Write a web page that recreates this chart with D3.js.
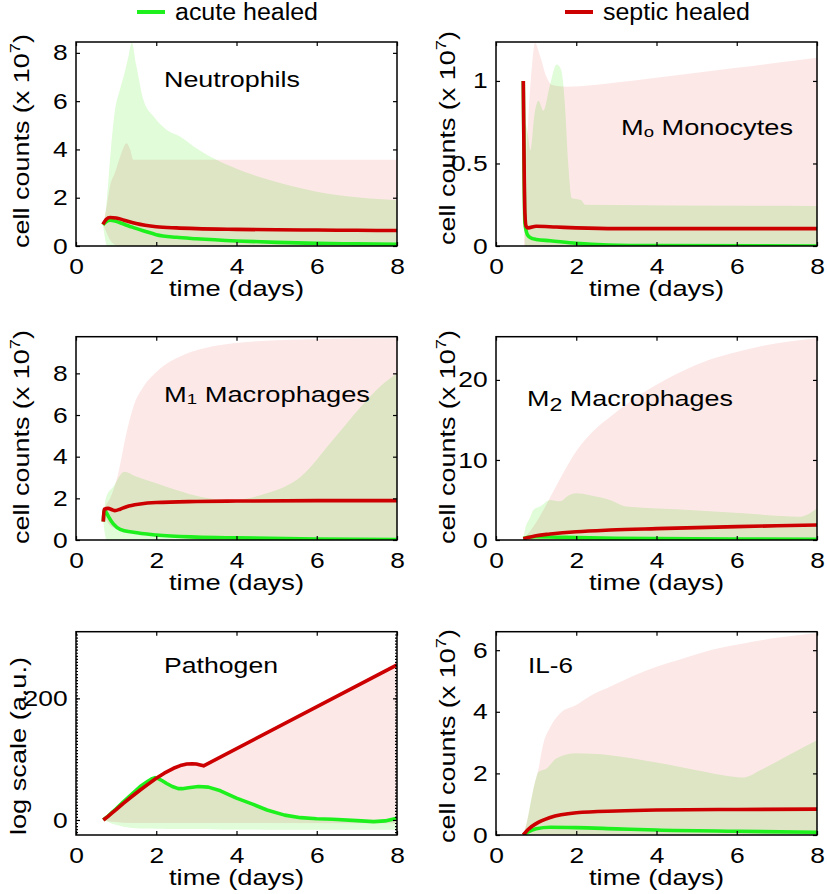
<!DOCTYPE html>
<html>
<head>
<meta charset="utf-8">
<script src="https://cdn.jsdelivr.net/npm/d3@7/dist/d3.min.js"></script>
<style>
  body { margin: 0; background: #fff; }
  text { font-family: "Liberation Sans", Arial, sans-serif; }
</style>
</head>
<body>
<div id="chart"></div>
<script>
// ---- data: [time, value] for lines, [time, low, high] for bands ----
const xTicks = [0, 2, 4, 6, 8];

// Neutrophils
const neutAcute = [[0.67,0.88],[0.75,1.0],[0.85,1.07],[1.0,1.02],[1.2,0.9],[1.4,0.78],[1.7,0.62],[2,0.47],[2.5,0.36],[3,0.3],[4,0.21],[5,0.15],[6,0.11],[7,0.09],[8,0.07]];
const neutSeptic = [[0.67,0.9],[0.75,1.1],[0.85,1.18],[1.0,1.16],[1.2,1.07],[1.5,0.93],[2,0.8],[2.5,0.75],[3,0.72],[4,0.69],[5,0.67],[6,0.66],[7,0.65],[8,0.64]];
const neutAcuteBand = [[0.67,0.9,0.9],[0.72,0.35,1.2],[0.77,0,1.95],[0.87,0,4.0],[0.97,0,5.6],[1.1,0,6.5],[1.2,0,7.1],[1.3,0,7.8],[1.39,0,8.42],[1.5,0,7.5],[1.68,0,6.06],[1.93,0,5.37],[2.26,0,4.81],[2.59,0,4.54],[3.0,0,4.05],[3.5,0,3.57],[4,0,3.2],[5,0,2.65],[6,0,2.25],[7,0,2.02],[8,0,1.9]];
const neutSepticBand = [[0.67,0.9,0.9],[0.75,0.6,1.5],[0.85,0.25,2.5],[0.97,0.05,3.03],[1.1,0,3.7],[1.26,0,4.26],[1.35,0,4.0],[1.43,0,3.57],[2,0,3.57],[8,0,3.57]];
const neutYTicks = [0, 2, 4, 6, 8];

// M0 monocytes
const monoAcute = [[0.68,1.0],[0.7,0.45],[0.72,0.14],[0.78,0.07],[0.85,0.052],[1.0,0.04],[1.35,0.032],[2,0.016],[2.8,0.006],[4,0.002],[8,0]];
const monoSeptic = [[0.68,1.0],[0.7,0.5],[0.72,0.2],[0.75,0.12],[0.8,0.11],[1.0,0.12],[1.5,0.115],[2,0.11],[3,0.105],[8,0.105]];
const monoAcuteBand = [[0.72,0,0],[0.73,0,0.74],[0.78,0,0.7],[0.86,0,0.58],[0.96,0,0.8],[1.06,0,0.88],[1.18,0,0.82],[1.35,0,0.98],[1.51,0,1.1],[1.62,0,1.07],[1.72,0,0.85],[1.8,0,0.5],[1.89,0,0.29],[2.0,0,0.285],[2.12,0,0.278],[2.22,0,0.25],[8,0,0.243]];
const monoSepticBand = [[0.7,0,0.2],[0.73,0,0.4],[0.8,0,0.75],[0.9,0,1.1],[0.97,0,1.23],[1.1,0,1.15],[1.25,0,1.03],[1.4,0,0.975],[1.76,0,0.965],[3,0,0.99],[4,0,1.02],[5,0,1.05],[6,0,1.08],[7,0,1.11],[8,0,1.14]];
const monoYTicks = [0, 0.5, 1];

// M1 macrophages
const m1Acute = [[0.68,0.9],[0.71,1.45],[0.76,1.3],[0.81,1.12],[0.93,0.77],[1.1,0.51],[1.43,0.37],[2,0.24],[3,0.14],[4,0.1],[6,0.05],[8,0.02]];
const m1Septic = [[0.68,0.88],[0.7,1.47],[0.8,1.52],[0.9,1.45],[0.97,1.41],[1.1,1.48],[1.26,1.6],[1.6,1.73],[2,1.8],[3,1.85],[4,1.87],[6,1.89],[8,1.89]];
const m1AcuteBand = [[0.68,0.9,0.9],[0.72,0.3,1.76],[0.76,0,2.1],[0.93,0,2.56],[1.2,0,3.28],[1.5,0,3.05],[2,0,2.72],[2.5,0,2.4],[3.1,0,2.08],[3.9,0,1.92],[4.75,0,2.24],[5.6,0,3.04],[6.4,0,4.8],[7.1,0,6.4],[7.6,0,7.4],[8,0,8.0]];
const m1SepticBand = [[0.68,0.88,0.88],[0.72,1.0,1.5],[0.85,0.7,2.0],[1.01,0.55,2.88],[1.14,0.5,4.0],[1.22,0.47,4.8],[1.43,0.42,6.4],[1.68,0.35,7.36],[2.01,0.28,8.08],[2.68,0.08,8.88],[3.2,0,9.2],[3.92,0,9.44],[5.59,0,9.63],[8,0,9.68]];
const m1YTicks = [0, 2, 4, 6, 8];

// M2 macrophages
const m2Acute = [[0.68,0.2],[0.8,0.35],[1.0,0.4],[1.5,0.35],[2,0.3],[3,0.22],[4,0.17],[6,0.12],[8,0.1]];
const m2Septic = [[0.68,0.17],[1.0,0.54],[1.35,0.75],[2,1.04],[2.85,1.25],[4,1.42],[5,1.55],[6,1.67],[7,1.78],[8,1.88]];
const m2AcuteBand = [[0.68,0,0.2],[0.72,0,1.25],[0.85,0,2.8],[0.93,0,3.75],[1.1,0,4.17],[1.35,0,5.0],[1.55,0,4.85],[1.64,0,4.9],[1.76,0,5.4],[2.0,0,5.83],[2.34,0,5.6],[2.84,0,5.0],[3.26,0,4.17],[4.5,0,3.83],[6.17,0,3.33],[7.58,0,2.92],[8,0,3.96]];
const m2SepticBand = [[0.68,0,0.17],[0.8,0,0.8],[1.0,0,2.2],[1.2,0,3.9],[1.4,0,5.8],[1.7,0,8.6],[2,0,11.1],[2.4,0,13.5],[2.85,0,15.4],[3.4,0,17.5],[4,0,19.4],[4.6,0,21],[5.3,0,22.5],[6,0,23.5],[6.6,0,24.2],[7.3,0,24.8],[8,0,25.2]];
const m2YTicks = [0, 10, 20];

// Pathogen (log scale, a.u.)
const pathAcute = [[0.68,0],[0.8,6.5],[0.9,12.5],[1.0,18.5],[1.18,30],[1.4,43],[1.6,55],[1.8,64],[1.9,68],[1.97,69.6],[2.05,68],[2.15,64.5],[2.26,60],[2.4,55],[2.55,51.5],[2.65,51.5],[2.8,53],[3.05,55],[3.3,54],[3.6,48],[4,36],[4.4,26],[4.76,16.4],[5.2,8],[5.6,3.8],[6,2],[6.4,1.1],[7,-1],[7.42,-2.7],[7.7,-1.5],[8,2.7]];
const pathSeptic = [[0.68,0],[0.8,6],[0.9,11.5],[1.0,17],[1.18,27.4],[1.4,39],[1.6,49.3],[1.8,59],[2.0,68.5],[2.2,77],[2.43,85],[2.6,89.5],[2.76,92],[2.9,92.5],[3.0,92],[3.1,90.5],[3.18,89],[8,255]];
const pathAcuteBand = [[0.68,0,0],[0.8,-3,6.5],[0.9,-6,12.5],[1.0,-8,18.5],[1.18,-11,30],[1.4,-13,43],[1.6,-14,55],[1.8,-14,64],[1.9,-14,68],[1.97,-14.5,69.6],[2.05,-14.5,68],[2.15,-14.5,64.5],[2.26,-15,60],[2.4,-15,55],[2.55,-15,51.5],[2.65,-15,51.5],[2.8,-15,53],[3.05,-15,55],[3.3,-15,54],[3.6,-15.5,48],[4,-15.5,36],[4.4,-15.5,26],[4.76,-16,16.4],[5.2,-16,8],[5.6,-16,3.8],[6,-16,2],[6.4,-16,1.1],[7,-16,-1],[7.42,-16,-2.7],[7.7,-16,-1.5],[8,-16,2.7]];
const pathSepticBand = [[0.68,0,0],[0.8,-2,6],[0.9,-3,11.5],[1.0,-3.5,17],[1.18,-4.5,27.4],[1.4,-5,39],[1.6,-5,49.3],[1.8,-5,59],[2.0,-5,68.5],[2.2,-5,77],[2.43,-5,85],[2.6,-5,89.5],[2.76,-5,92],[2.9,-5,92.5],[3.0,-5,92],[3.1,-5,90.5],[3.18,-5,89],[8,-5.5,255]];
const pathYTicks = [0, 200];

// IL-6
const il6Acute = [[0.68,0],[0.8,0.1],[1.0,0.2],[1.35,0.25],[2,0.24],[3,0.2],[4,0.16],[6,0.12],[8,0.09]];
const il6Septic = [[0.68,0],[0.8,0.18],[1.0,0.37],[1.35,0.57],[2,0.72],[3,0.78],[4,0.81],[6,0.83],[8,0.84]];
const il6AcuteBand = [[0.68,0,0],[0.75,0,0.3],[0.89,0,1.24],[1.0,0,1.85],[1.06,0,2.05],[1.26,0,2.16],[1.51,0,2.49],[2.0,0,2.65],[2.84,0,2.59],[4,0,2.35],[5,0,2.1],[6.17,0,1.87],[6.6,0,2.11],[7.3,0,2.6],[8,0,3.08]];
const il6SepticBand = [[0.68,0,0],[0.8,0,0.6],[0.95,0,1.6],[1.05,0,2.1],[1.18,0,2.97],[1.35,0,3.5],[1.6,0,3.95],[2,0,4.22],[2.4,0,4.55],[2.84,0,4.81],[3.4,0,5.15],[4,0,5.46],[4.7,0,5.75],[5.34,0,6.0],[6.17,0,6.22],[7,0,6.4],[8,0,6.56]];
const il6YTicks = [0, 2, 4, 6];

// ---- styling ----
const greenLine = "#1ef01e", redLine = "#cc0000";
const greenFill = "#e0fcd8", pinkFill = "#fde8e8";

const svg = d3.select("#chart").append("svg")
    .attr("width", 827)
    .attr("height", 894);

// plot boxes (column x range, row y range)
const cols = [[76, 397], [496, 817]];
const rows = [[42, 246], [336.7, 540], [631.7, 835]];

const cellLabel = { main: "cell counts (x 10", sup: "7", tail: ")", len: 214 };

const panels = [
    { col: 0, row: 0, yDomain: [0, 8.45], yTicks: neutYTicks,
      acute: neutAcute, septic: neutSeptic, acuteBand: neutAcuteBand, septicBand: neutSepticBand,
      title: [{ t: "Neutrophils" }], tx: 164, ty: 87, tlen: 136,
      ylab: cellLabel, lx: 29, ly: 141 },
    { col: 1, row: 0, yDomain: [0, 1.236], yTicks: monoYTicks,
      acute: monoAcute, septic: monoSeptic, acuteBand: monoAcuteBand, septicBand: monoSepticBand,
      title: [{ t: "M" }, { t: "o", size: 15, dy: 2 }, { t: " Monocytes" }], tx: 621, ty: 135, tlen: 172,
      ylab: cellLabel, lx: 455, ly: 138 },
    { col: 0, row: 1, yDomain: [0, 9.76], yTicks: m1YTicks,
      acute: m1Acute, septic: m1Septic, acuteBand: m1AcuteBand, septicBand: m1SepticBand,
      title: [{ t: "M" }, { t: "1", size: 15, dy: 2 }, { t: "  Macrophages" }], tx: 164, ty: 401.7, tlen: 206,
      ylab: cellLabel, lx: 29, ly: 437 },
    { col: 1, row: 1, yDomain: [0, 25.4], yTicks: m2YTicks,
      acute: m2Acute, septic: m2Septic, acuteBand: m2AcuteBand, septicBand: m2SepticBand,
      title: [{ t: "M" }, { t: "2", size: 19, dy: 5 }, { t: " Macrophages" }], tx: 527, ty: 406, tlen: 206,
      ylab: cellLabel, lx: 455, ly: 437 },
    { col: 0, row: 2, yDomain: [-24.7, 309.6], yTicks: pathYTicks, minor: d3.range(-20, 310, 5),
      acute: pathAcute, septic: pathSeptic, acuteBand: pathAcuteBand, septicBand: pathSepticBand,
      curve: d3.curveLinear,
      title: [{ t: "Pathogen" }], tx: 164, ty: 673, tlen: 114,
      ylab: { main: "log scale (a.u.)", len: 178 }, lx: 26, ly: 746 },
    { col: 1, row: 2, yDomain: [0, 6.6], yTicks: il6YTicks,
      acute: il6Acute, septic: il6Septic, acuteBand: il6AcuteBand, septicBand: il6SepticBand,
      title: [{ t: "IL-6" }], tx: 528, ty: 673, tlen: 45,
      ylab: cellLabel, lx: 455, ly: 736 }
];

function styleAxis(sel, withText) {
    sel.attr("font-size", 22).attr("font-family", '"Liberation Sans", Arial, sans-serif');
    sel.select(".domain").remove();
    sel.selectAll(".tick line").attr("stroke", "#000").attr("stroke-width", 1.2);
    if (withText) sel.selectAll(".tick text").attr("fill", "#000").attr("transform", "scale(1.2,1)");
}

panels.forEach((p, i) => {
    const [x0, x1] = cols[p.col];
    const [y0, y1] = rows[p.row];
    const curve = p.curve || d3.curveMonotoneX;

    const x = d3.scaleLinear().domain([0, 8]).range([x0, x1]);
    const y = d3.scaleLinear().domain(p.yDomain).range([y1, y0]);

    const g = svg.append("g");

    g.append("clipPath").attr("id", "clip" + i)
        .append("rect")
        .attr("x", x0).attr("y", y0)
        .attr("width", x1 - x0).attr("height", y1 - y0);

    const plot = g.append("g").attr("clip-path", `url(#clip${i})`);

    const area = d3.area()
        .x(d => x(d[0]))
        .y0(d => y(d[1]))
        .y1(d => y(d[2]))
        .curve(curve);

    const line = d3.line()
        .x(d => x(d[0]))
        .y(d => y(d[1]))
        .curve(curve);

    // bands
    plot.append("path").attr("d", area(p.septicBand)).attr("fill", pinkFill);
    plot.append("path").attr("d", area(p.acuteBand)).attr("fill", greenFill)
        .style("mix-blend-mode", "multiply");

    // mean lines
    plot.append("path").attr("d", line(p.acute))
        .attr("fill", "none").attr("stroke", greenLine)
        .attr("stroke-width", 3.6).attr("stroke-linejoin", "round");
    plot.append("path").attr("d", line(p.septic))
        .attr("fill", "none").attr("stroke", redLine)
        .attr("stroke-width", 3.6).attr("stroke-linejoin", "round");

    // axes, ticks pointing inward on all four sides
    g.append("g").attr("transform", `translate(0,${y1})`)
        .call(d3.axisBottom(x).tickValues(xTicks).tickSize(-4).tickPadding(12))
        .call(s => styleAxis(s, true));
    g.append("g").attr("transform", `translate(0,${y0})`)
        .call(d3.axisTop(x).tickValues(xTicks).tickSize(-4).tickFormat(() => ""))
        .call(s => styleAxis(s, false));
    g.append("g").attr("transform", `translate(${x0},0)`)
        .call(d3.axisLeft(y).tickValues(p.yTicks).tickSize(-4).tickPadding(7).tickFormat(d3.format("~g")))
        .call(s => styleAxis(s, true));
    g.append("g").attr("transform", `translate(${x1},0)`)
        .call(d3.axisRight(y).tickValues(p.yTicks).tickSize(-4).tickFormat(() => ""))
        .call(s => styleAxis(s, false));

    if (p.minor) {
        g.append("g").attr("transform", `translate(${x0},0)`)
            .call(d3.axisLeft(y).tickValues(p.minor).tickSize(-2).tickFormat(() => ""))
            .call(s => styleAxis(s, false));
        g.append("g").attr("transform", `translate(${x1},0)`)
            .call(d3.axisRight(y).tickValues(p.minor).tickSize(-2).tickFormat(() => ""))
            .call(s => styleAxis(s, false));
    }

    // frame
    g.append("rect")
        .attr("x", x0).attr("y", y0)
        .attr("width", x1 - x0).attr("height", y1 - y0)
        .attr("fill", "none").attr("stroke", "#000").attr("stroke-width", 1.5);

    // panel title
    const title = g.append("text")
        .attr("x", p.tx).attr("y", p.ty)
        .attr("font-size", 22)
        .attr("textLength", p.tlen)
        .attr("lengthAdjust", "spacingAndGlyphs");
    let shift = 0;
    p.title.forEach(part => {
        const dy = (part.dy || 0) - shift;
        title.append("tspan")
            .attr("dy", dy)
            .attr("font-size", part.size || 22)
            .text(part.t);
        shift = part.dy || 0;
    });

    // x label
    g.append("text")
        .attr("x", (x0 + x1) / 2).attr("y", y1 + 50)
        .attr("text-anchor", "middle")
        .attr("font-size", 22)
        .attr("textLength", 135)
        .attr("lengthAdjust", "spacingAndGlyphs")
        .text("time (days)");

    // y label
    const yl = g.append("text")
        .attr("transform", `translate(${p.lx},${p.ly}) rotate(-90)`)
        .attr("text-anchor", "middle")
        .attr("font-size", 22)
        .attr("textLength", p.ylab.len)
        .attr("lengthAdjust", "spacingAndGlyphs");
    yl.append("tspan").text(p.ylab.main);
    if (p.ylab.sup) {
        yl.append("tspan").attr("dy", -9).attr("font-size", 15).text(p.ylab.sup);
        yl.append("tspan").attr("dy", 9).text(p.ylab.tail);
    }
});

// legend
const legendItems = [
    { name: "acute healed", color: greenLine, x: 137, len: 143 },
    { name: "septic healed", color: redLine, x: 565, len: 147 }
];
const legend = svg.selectAll(".legend")
    .data(legendItems)
    .enter()
    .append("g")
    .attr("class", "legend")
    .attr("transform", d => `translate(${d.x},12)`);

legend.append("line")
    .attr("x1", 0).attr("x2", 28)
    .attr("stroke", d => d.color)
    .attr("stroke-width", 4);

legend.append("text")
    .attr("x", 38).attr("y", 8)
    .attr("font-size", 23)
    .attr("textLength", d => d.len)
    .attr("lengthAdjust", "spacingAndGlyphs")
    .text(d => d.name);
</script>
</body>
</html>
